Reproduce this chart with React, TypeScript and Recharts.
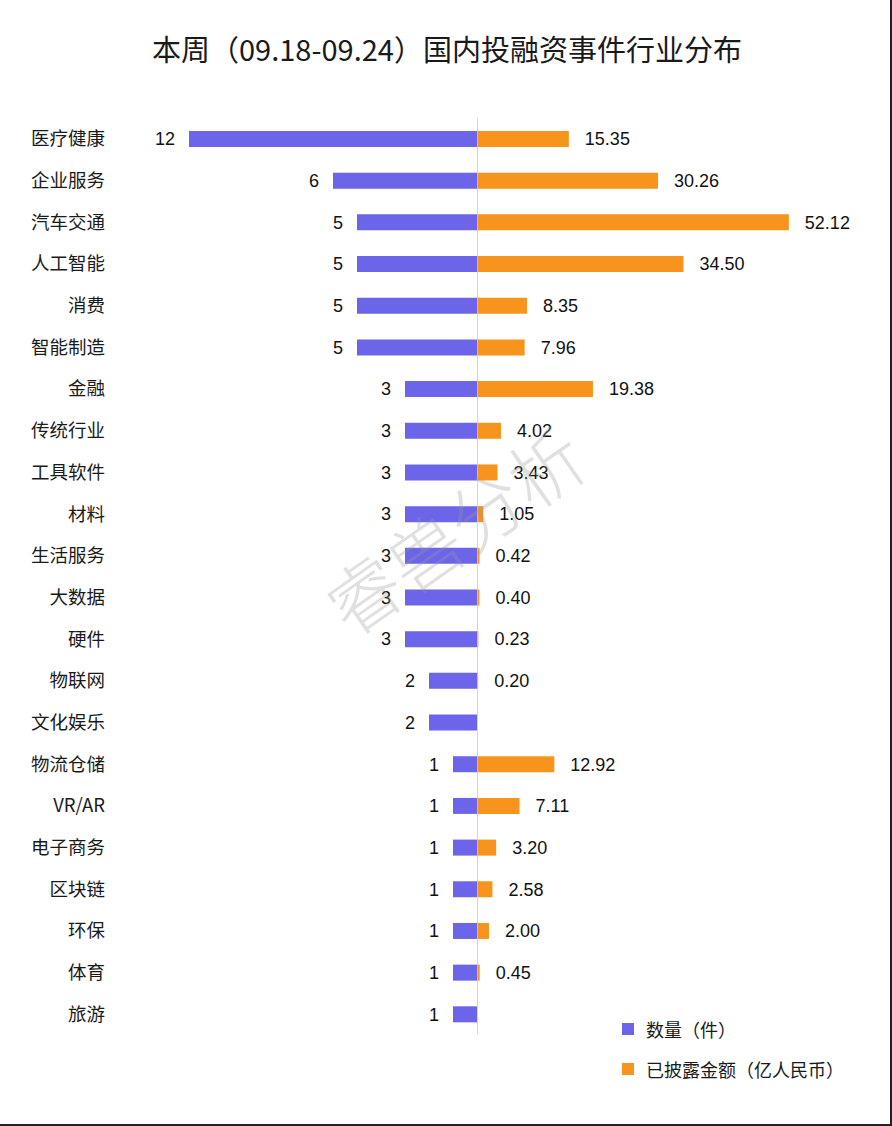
import { BarChart, Bar, XAxis, YAxis, LabelList, ReferenceLine } from "recharts";

const industries = [
  "医疗健康", "企业服务", "汽车交通", "人工智能", "消费", "智能制造", "金融", "传统行业",
  "工具软件", "材料", "生活服务", "大数据", "硬件", "物联网", "文化娱乐", "物流仓储",
  "VR/AR", "电子商务", "区块链", "环保", "体育", "旅游",
];
const counts = [12, 6, 5, 5, 5, 5, 3, 3, 3, 3, 3, 3, 3, 2, 2, 1, 1, 1, 1, 1, 1, 1];
const amounts = [
  15.35, 30.26, 52.12, 34.5, 8.35, 7.96, 19.38, 4.02, 3.43, 1.05, 0.42, 0.4, 0.23, 0.2, null,
  12.92, 7.11, 3.2, 2.58, 2.0, 0.45, null,
];

const data = industries.map((name, i) => ({ name, count: counts[i], amount: amounts[i] }));

const PURPLE = "#6c64e9";
const ORANGE = "#f7941d";
const AXIS = "#c8c8c8";
const CN_FONT = '"Noto Sans CJK SC", "Noto Sans", sans-serif';
const NUM_FONT = '"Liberation Sans", Arial, sans-serif';

const TOP = 118;
const BOTTOM = 91;
const H = 1126;
const BAR = 16;

// label sits outside the bar end, whichever way the bar grows
const sideLabel = (side: "left" | "right", digits: number) => (props: any) => {
  const { x, y, width, height, value } = props;
  if (value == null) return null;
  const lo = Math.min(x, x + width);
  const hi = Math.max(x, x + width);
  const tx = side === "left" ? lo - 14 : hi + 16;
  return (
    <text
      x={tx}
      y={y + height / 2}
      dy="0.35em"
      textAnchor={side === "left" ? "end" : "start"}
      fontFamily={NUM_FONT}
      fontSize={18}
      fill="#111"
    >
      {Number(value).toFixed(digits)}
    </text>
  );
};

export default function App() {
  return (
    <div
      style={{
        position: "absolute",
        left: 0,
        top: 0,
        width: 892,
        height: H,
        background: "#fff",
        overflow: "hidden",
        borderRight: "2px solid #222",
        borderBottom: "2px solid #222",
        boxSizing: "border-box",
      }}
    >
      <div
        style={{
          position: "absolute",
          top: 28,
          left: 0,
          width: 894,
          textAlign: "center",
          fontFamily: CN_FONT,
          fontSize: 29,
          color: "#1a1a1a",
          lineHeight: "40px",
        }}
      >
        本周（09.18-09.24）国内投融资事件行业分布
      </div>

      <div style={{ position: "absolute", left: 0, top: 0 }}>
        <BarChart
          width={477}
          height={H}
          data={data}
          layout="vertical"
          margin={{ top: TOP, right: 0, bottom: BOTTOM, left: 0 }}
        >
          <XAxis type="number" dataKey="count" domain={[0, 15]} reversed hide />
          <YAxis
            type="category"
            dataKey="name"
            width={117}
            axisLine={false}
            tickLine={false}
            tickSize={0}
            tickMargin={12}
            tick={{ fontFamily: CN_FONT, fontSize: 18.5, fill: "#1a1a1a" }}
            interval={0}
          />
          <Bar dataKey="count" fill={PURPLE} barSize={BAR} isAnimationActive={false}>
            <LabelList dataKey="count" content={sideLabel("left", 0)} />
          </Bar>
        </BarChart>
      </div>

      <div style={{ position: "absolute", left: 477, top: 0 }}>
        <BarChart
          width={415}
          height={H}
          data={data}
          layout="vertical"
          margin={{ top: TOP, right: 56, bottom: BOTTOM, left: 0 }}
        >
          <XAxis type="number" dataKey="amount" domain={[0, 60]} hide />
          <YAxis type="category" dataKey="name" width={0} hide />
          <Bar dataKey="amount" fill={ORANGE} barSize={BAR} isAnimationActive={false}>
            <LabelList dataKey="amount" content={sideLabel("right", 2)} />
          </Bar>
          <ReferenceLine x={0} stroke={AXIS} strokeWidth={1.5} />
        </BarChart>
      </div>

      <svg
        width={892}
        height={H}
        style={{ position: "absolute", left: 0, top: 0, pointerEvents: "none" }}
      >
        <text
          x={460}
          y={538}
          textAnchor="middle"
          dominantBaseline="middle"
          transform="rotate(-35 460 538)"
          fontFamily={CN_FONT}
          fontSize={74}
          fontWeight={300}
          fill="#9a9a9a"
          opacity={0.3}
        >
          睿兽分析
        </text>
      </svg>

      <div
        style={{
          position: "absolute",
          left: 622,
          top: 1015,
          fontFamily: CN_FONT,
          fontSize: 18,
          color: "#1a1a1a",
          lineHeight: "28px",
        }}
      >
        <div style={{ display: "flex", alignItems: "center", marginBottom: 12 }}>
          <span style={{ width: 12, height: 12, background: PURPLE, marginRight: 12 }} />
          数量（件）
        </div>
        <div style={{ display: "flex", alignItems: "center" }}>
          <span style={{ width: 12, height: 12, background: ORANGE, marginRight: 12 }} />
          已披露金额（亿人民币）
        </div>
      </div>
    </div>
  );
}
